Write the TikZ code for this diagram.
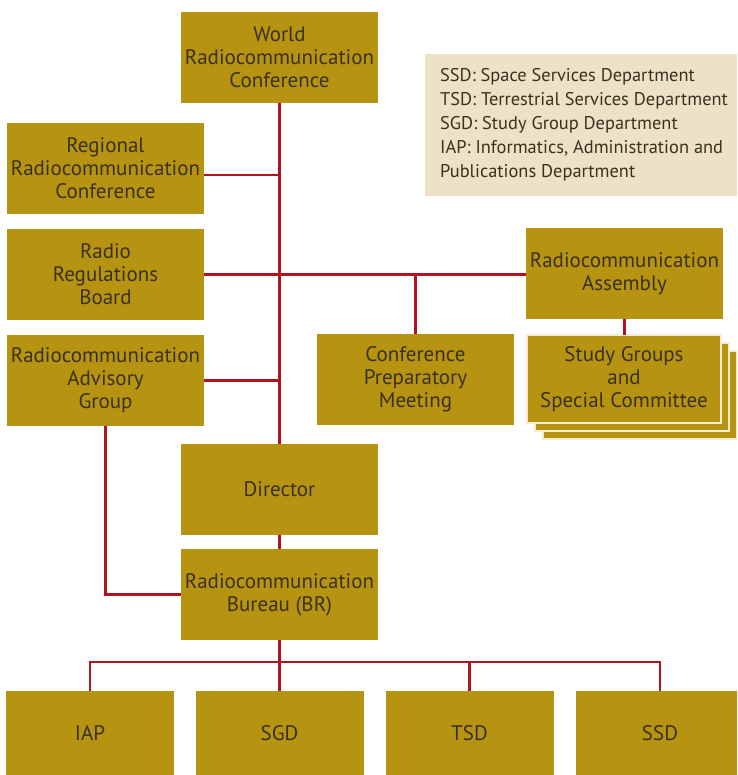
\documentclass[tikz,border=0pt]{standalone}
\usepackage{fontspec}
\setmainfont{PT Sans}
\definecolor{gold}{HTML}{B79312}
\definecolor{redline}{HTML}{B0121E}
\definecolor{legendbg}{HTML}{EEE2C6}
\definecolor{txt}{HTML}{3A3120}
\definecolor{edge}{HTML}{F3EBD2}
\begin{document}
\begin{tikzpicture}[x=1pt,y=-1pt,
  box/.style={fill=gold, draw=none, inner sep=0pt, outer sep=0pt, minimum width=197pt, minimum height=91pt,
    align=center, text=txt, font=\fontsize{21}{23}\selectfont},
  smallbox/.style={box, minimum width=168pt, minimum height=84pt},
  stackbox/.style={box, draw=edge, line width=1.2pt, minimum width=194pt, minimum height=88pt},
  conn/.style={draw=redline, line width=2.2pt}]
\clip (0,0) rectangle (737,775);
\useasboundingbox (0,0) rectangle (737,775);
% legend
\fill[legendbg] (425,54) rectangle (737,196);
\node[anchor=north west, align=left, text=txt, inner sep=0pt, font=\fontsize{18.4}{24}\selectfont] (legend) at (440,68)
  {SSD: Space Services Department\\TSD: Terrestrial Services Department\\SGD: Study Group Department\\IAP: Informatics, Administration and\\Publications Department};
% boxes
\node[box] (wrc) at (279.5,57.5) {World\\Radiocommunication\\Conference};
\node[box] (rrc) at (105.5,168.5) {Regional\\Radiocommunication\\Conference};
\node[box] (rrb) at (105.5,274.5) {Radio\\Regulations\\Board};
\node[box] (rag) at (105.5,380.5) {Radiocommunication\\Advisory\\Group};
\node[box] (dir) at (279.5,489.5) {Director};
\node[box] (br) at (279.5,594.5) {Radiocommunication\\Bureau (BR)};
\node[box] (cpm) at (415.5,379.5) {Conference\\Preparatory\\Meeting};
\node[box] (ra) at (624.5,273.5) {Radiocommunication\\Assembly};
% stacked study groups
\node[stackbox] (sg3) at (640,395) {};
\node[stackbox] (sg2) at (632,387) {};
\node[stackbox] (sg) at (624,379) {Study Groups\\and\\Special Committee};
% departments
\node[smallbox] (iap) at (90,733) {IAP};
\node[smallbox] (sgd) at (279.5,733) {SGD};
\node[smallbox] (tsd) at (469.5,733) {TSD};
\node[smallbox] (ssd) at (660,733) {SSD};
% connectors
\coordinate (rrcj) at (204,175);
\coordinate (bus) at (279.5,662);
\draw[conn] (wrc.south) -- (dir.north);
\draw[conn] (rrcj) -- (rrcj -| wrc.south);
\draw[conn] (rrb.east) -- (rrb.east -| ra.west);
\draw[conn] (cpm.north) -- (cpm.north |- rrb.east);
\draw[conn] (rag.east) -- (rag.east -| wrc.south);
\draw[conn] (ra.south) -- (ra.south |- sg.north);
\draw[conn] (dir.south) -- (br.north);
\draw[conn] (rag.south) |- (br.west);
\draw[conn] (br.south) -- (bus);
\draw[conn] (iap.north) |- (bus) -| (ssd.north);
\draw[conn] (sgd.north) -- (sgd.north |- bus);
\draw[conn] (tsd.north) -- (tsd.north |- bus);
\end{tikzpicture}
\end{document}
